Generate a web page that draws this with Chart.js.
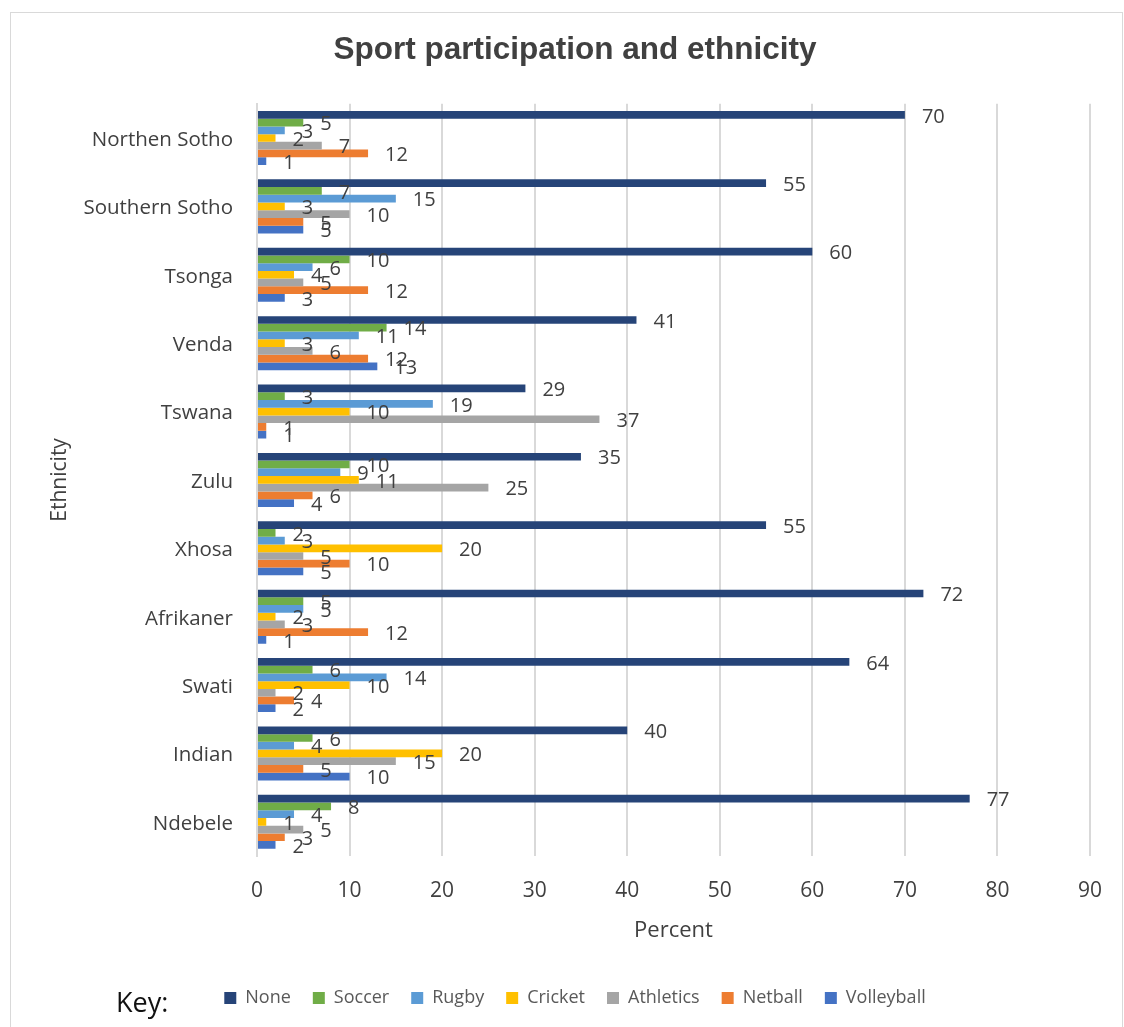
<!DOCTYPE html>
<html>
<head>
<meta charset="utf-8">
<script src="https://cdn.jsdelivr.net/npm/chart.js@4/dist/chart.umd.min.js"></script>
<style>
  html, body { margin: 0; padding: 0; background: #fff; }
  #wrap { position: relative; width: 1124px; height: 1027px; }
  #frame { position: absolute; left: 10px; top: 12px; width: 1111px; height: 1030px;
           border: 1px solid #d9d9d9; pointer-events: none; }
  canvas { position: absolute; left: 0; top: 0; }
</style>
</head>
<body>
<div id="wrap">
  <canvas id="sportChart" width="1124" height="1027"></canvas>
  <div id="frame"></div>
</div>
<script>
// categories (top to bottom)
const ethnicities = ["Northen Sotho", "Southern Sotho", "Tsonga", "Venda", "Tswana", "Zulu",
                     "Xhosa", "Afrikaner", "Swati", "Indian", "Ndebele"];

// percent per sport, same order as ethnicities
const none       = [70, 55, 60, 41, 29, 35, 55, 72, 64, 40, 77];
const soccer     = [5, 7, 10, 14, 3, 10, 2, 5, 6, 6, 8];
const rugby      = [3, 15, 6, 11, 19, 9, 3, 5, 14, 4, 4];
const cricket    = [2, 3, 4, 3, 10, 11, 20, 2, 10, 20, 1];
const athletics  = [7, 10, 5, 6, 37, 25, 5, 3, 2, 15, 5];
const netball    = [12, 5, 12, 12, 1, 6, 10, 12, 4, 5, 3];
const volleyball = [1, 5, 3, 13, 1, 4, 5, 1, 2, 10, 2];

const xTicks = [0, 10, 20, 30, 40, 50, 60, 70, 80, 90];

const textColor = "#404040";
const gridColor = "#d9d9d9";

// Excel style value labels to the right of each bar
const valueLabels = {
    id: "valueLabels",
    afterDatasetsDraw(chart) {
        const ctx = chart.ctx;
        ctx.save();
        ctx.font = "20px 'Open Sans'";
        ctx.fillStyle = textColor;
        ctx.textAlign = "left";
        ctx.textBaseline = "middle";
        chart.data.datasets.forEach((ds, i) => {
            const meta = chart.getDatasetMeta(i);
            meta.data.forEach((bar, j) => {
                ctx.fillText(String(ds.data[j]), bar.x + 17, bar.y + 2);
            });
        });
        ctx.restore();
    }
};

// "Key:" word left of the legend
const keyText = {
    id: "keyText",
    afterDraw(chart) {
        const ctx = chart.ctx;
        const lg = chart.legend;
        ctx.save();
        ctx.font = "27px 'Open Sans'";
        ctx.fillStyle = "#111";
        ctx.textAlign = "left";
        ctx.textBaseline = "middle";
        const hb = lg.legendHitBoxes[0];
        const y = hb ? hb.top + hb.height / 2 + 6 : 1002;
        ctx.fillText("Key:", 116, y);
        ctx.restore();
    }
};

const ctx = document.getElementById("sportChart").getContext("2d");
window.sportChart = new Chart(ctx, {
    type: "bar",
    data: {
        labels: ethnicities,
        datasets: [
            { label: "None", data: none, backgroundColor: "#264478" },
            { label: "Soccer", data: soccer, backgroundColor: "#70ad47" },
            { label: "Rugby", data: rugby, backgroundColor: "#5b9bd5" },
            { label: "Cricket", data: cricket, backgroundColor: "#ffc000" },
            { label: "Athletics", data: athletics, backgroundColor: "#a5a5a5" },
            { label: "Netball", data: netball, backgroundColor: "#ed7d31" },
            { label: "Volleyball", data: volleyball, backgroundColor: "#4472c4" }
        ]
    },
    options: {
        indexAxis: "y",
        responsive: false,
        animation: false,
        datasets: {
            bar: { categoryPercentage: 0.79, barPercentage: 1.0, borderWidth: 0 }
        },
        layout: { padding: { left: 59, right: 33, top: 0, bottom: 10 } },
        plugins: {
            title: {
                display: true,
                text: "Sport participation and ethnicity",
                color: textColor,
                font: { family: "'Liberation Sans', Arial, sans-serif", size: 31.5, weight: "bold" },
                padding: { top: 31, bottom: 35 }
            },
            legend: {
                display: true,
                position: "bottom",
                labels: {
                    color: "#595959",
                    font: { family: "'Open Sans'", size: 18 },
                    boxWidth: 12,
                    boxHeight: 12,
                    padding: 22
                }
            },
            tooltip: { enabled: false }
        },
        scales: {
            x: {
                min: 0,
                max: 90,
                afterBuildTicks(scale) {
                    scale.ticks = xTicks.map(v => ({ value: v }));
                },
                afterFit(scale) {
                    scale.height = 111;
                },
                ticks: {
                    color: textColor,
                    font: { family: "'Open Sans'", size: 21 },
                    padding: 22
                },
                grid: { color: gridColor, lineWidth: 2, drawTicks: false },
                border: { display: false },
                title: {
                    display: true,
                    text: "Percent",
                    color: textColor,
                    font: { family: "'Open Sans'", size: 22 },
                    padding: { top: 0, bottom: 23 }
                }
            },
            y: {
                afterFit(scale) {
                    scale.width = 257 - 59;
                },
                ticks: {
                    color: textColor,
                    font: { family: "'Open Sans'", size: 20.5 },
                    padding: 24,
                    labelOffset: 2
                },
                grid: { display: false, drawTicks: false },
                border: { display: true, color: gridColor, width: 2 },
                title: {
                    display: true,
                    text: "Ethnicity",
                    color: textColor,
                    font: { family: "'Open Sans'", size: 21 },
                    padding: { top: -12, bottom: 0 }
                }
            }
        }
    },
    plugins: [valueLabels, keyText]
});
</script>
</body>
</html>
